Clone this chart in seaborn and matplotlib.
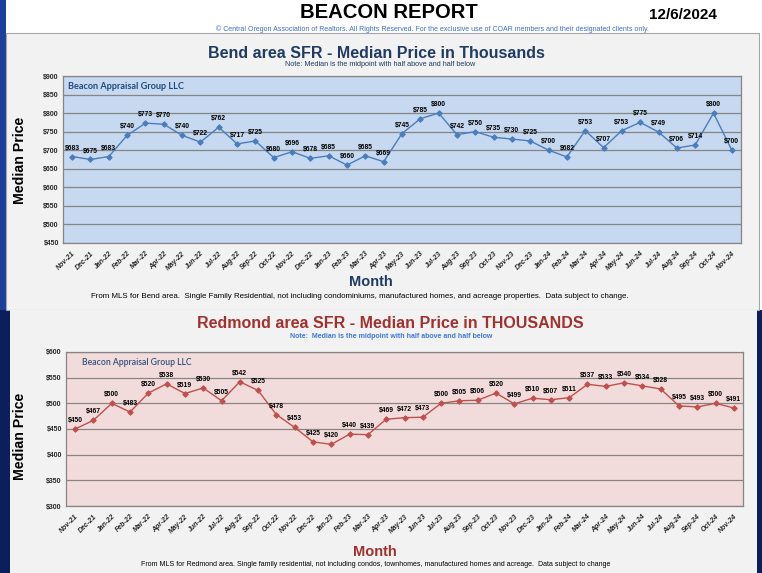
import matplotlib
matplotlib.use("Agg")
import matplotlib.pyplot as plt
from matplotlib.patches import Rectangle
import numpy as np
import pandas as pd
import seaborn as sns

# ---------------- data ----------------
months = ["Nov-21", "Dec-21", "Jan-22", "Feb-22", "Mar-22", "Apr-22", "May-22", "Jun-22",
          "Jul-22", "Aug-22", "Sep-22", "Oct-22", "Nov-22", "Dec-22", "Jan-23", "Feb-23",
          "Mar-23", "Apr-23", "May-23", "Jun-23", "Jul-23", "Aug-23", "Sep-23", "Oct-23",
          "Nov-23", "Dec-23", "Jan-24", "Feb-24", "Mar-24", "Apr-24", "May-24", "Jun-24",
          "Jul-24", "Aug-24", "Sep-24", "Oct-24", "Nov-24"]
bend_prices = [683, 675, 683, 740, 773, 770, 740, 722, 762, 717, 725, 680, 696, 678, 685,
               660, 685, 669, 745, 785, 800, 742, 750, 735, 730, 725, 700, 682, 753, 707,
               753, 775, 749, 706, 714, 800, 700]
redmond_prices = [450, 467, 500, 483, 520, 538, 519, 530, 505, 542, 525, 478, 453, 425, 420,
                  440, 439, 469, 472, 473, 500, 505, 506, 520, 499, 510, 507, 511, 537, 533,
                  540, 534, 528, 495, 493, 500, 491]
bend_yticks = [450, 500, 550, 600, 650, 700, 750, 800, 850, 900]
redmond_yticks = [300, 350, 400, 450, 500, 550, 600]

W, H = 762, 573
sns.set_theme(style="white")
ARIAL = ["Liberation Sans", "DejaVu Sans"]
plt.rcParams["font.family"] = ARIAL

fig = plt.figure(figsize=(W / 100, H / 100), dpi=100)
fig.patch.set_facecolor("#0c1f5c")


def rect(x0, y0, x1, y1, fc, ec="none", lw=0):
    fig.patches.append(Rectangle((x0 / W, 1 - y1 / H), (x1 - x0) / W, (y1 - y0) / H,
                                 transform=fig.transFigure, facecolor=fc, edgecolor=ec,
                                 linewidth=lw, zorder=-10))


def ftext(x, y, s, **kw):
    fig.text(x / W, 1 - y / H, s, **kw)


def axes_px(x0, y0, x1, y1):
    return fig.add_axes([x0 / W, 1 - y1 / H, (x1 - x0) / W, (y1 - y0) / H])


# backgrounds
rect(0, 0, 6, 310, "#1d3f9c")
rect(6, 0, W, 310, "white")
rect(6, 33, 759, 310, "#f2f2f2", ec="#a6a6a6", lw=0.8)
rect(10, 310, 757, H, "#f2f2f2")

# header
ftext(389, 13, "BEACON REPORT", ha="center", va="center", fontsize=14.6, fontweight="bold",
      color="black")
ftext(683, 15, "12/6/2024", ha="center", va="center", fontsize=11, fontweight="bold",
      color="black")
ftext(432, 29, "\u00a9 Central Oregon Association of Realtors. All Rights Reserved. For the exclusive use of COAR members and their designated clients only.",
      ha="center", va="center", fontsize=5.0, color="#3a6fc4")


def draw_chart(ax, values, yticks, face, line_color):
    df = pd.DataFrame({"pos": np.arange(len(months)), "price": values})
    ax.set_facecolor(face)
    sns.lineplot(data=df, x="pos", y="price", ax=ax, color=line_color, linewidth=1.0,
                 marker="D", markersize=2.8, markeredgecolor=line_color, legend=False)
    ax.set_xlim(-0.5, len(months) - 0.5)
    ax.set_ylim(yticks[0], yticks[-1])
    ax.set_yticks(yticks)
    ax.set_yticklabels([f"${v}" for v in yticks], fontsize=5.0, fontweight="bold")
    ax.set_xticks(df["pos"])
    ax.set_xticklabels(months, rotation=45, ha="right", rotation_mode="anchor",
                       fontsize=5.0, fontweight="bold", fontstyle="italic")
    ax.tick_params(axis="both", length=0, pad=3)
    ax.tick_params(axis="x", pad=5)
    ax.grid(axis="y", color="#858585", linewidth=0.9)
    ax.grid(axis="x", visible=False)
    for s in ax.spines.values():
        s.set_color("#858585")
        s.set_linewidth(0.9)
    ax.set_xlabel("")
    ax.set_ylabel("")
    for p, v in zip(df["pos"], df["price"]):
        ax.annotate(f"${v}", (p, v), xytext=(0, 3.6), textcoords="offset points",
                    ha="center", va="bottom", fontsize=4.9, fontweight="bold",
                    color="black", zorder=5)


# ---- Bend chart ----
ax1 = axes_px(63, 76, 741, 243)
draw_chart(ax1, bend_prices, bend_yticks, "#c6d9f1", "#4a7ebb")
ax1.text(0.008, 0.935, "Beacon Appraisal Group LLC", transform=ax1.transAxes, ha="left",
         va="center", fontsize=6.6, fontweight="bold", family=["Lato", "DejaVu Sans"],
         color="#1f497d")
ftext(376, 53, "Bend area SFR - Median Price in Thousands", ha="center", va="center",
      fontsize=11.5, fontweight="bold", color="#1f3b63")
ftext(380, 64, "Note: Median is the midpoint with half above and half below", ha="center",
      va="center", fontsize=5.2, color="#1f3b63")
ftext(20, 160, "Median Price", ha="center", va="center", rotation=90, fontsize=10.2,
      fontweight="bold", color="black")
ftext(371, 282, "Month", ha="center", va="center", fontsize=10.5, fontweight="bold",
      color="#1f3b63")
ftext(360, 297, "From MLS for Bend area.  Single Family Residential, not including condominiums, manufactured homes, and acreage properties.  Data subject to change.",
      ha="center", va="center", fontsize=5.7, color="black")

# ---- Redmond chart ----
ax2 = axes_px(66, 352, 743, 506)
draw_chart(ax2, redmond_prices, redmond_yticks, "#f2dcdb", "#c0504d")
ax2.text(0.024, 0.935, "Beacon Appraisal Group LLC", transform=ax2.transAxes, ha="left",
         va="center", fontsize=6.2, fontweight="semibold", family=["Lato", "DejaVu Sans"],
         color="#2d4f7a")
ftext(390, 323, "Redmond area SFR - Median Price in THOUSANDS", ha="center", va="center",
      fontsize=11.5, fontweight="bold", color="#a3302e")
ftext(391, 336, "Note:  Median is the midpoint with half above and half below", ha="center",
      va="center", fontsize=5.0, fontweight="bold", color="#3d78d8")
ftext(20, 436, "Median Price", ha="center", va="center", rotation=90, fontsize=10.2,
      fontweight="bold", color="black")
ftext(375, 552, "Month", ha="center", va="center", fontsize=10.5, fontweight="bold",
      color="#a3302e")
ftext(376, 565, "From MLS for Redmond area. Single family residential, not including condos, townhomes, manufactured homes and acreage.  Data subject to change",
      ha="center", va="center", fontsize=5.0, color="black")

fig.savefig("out.png", dpi=100)
